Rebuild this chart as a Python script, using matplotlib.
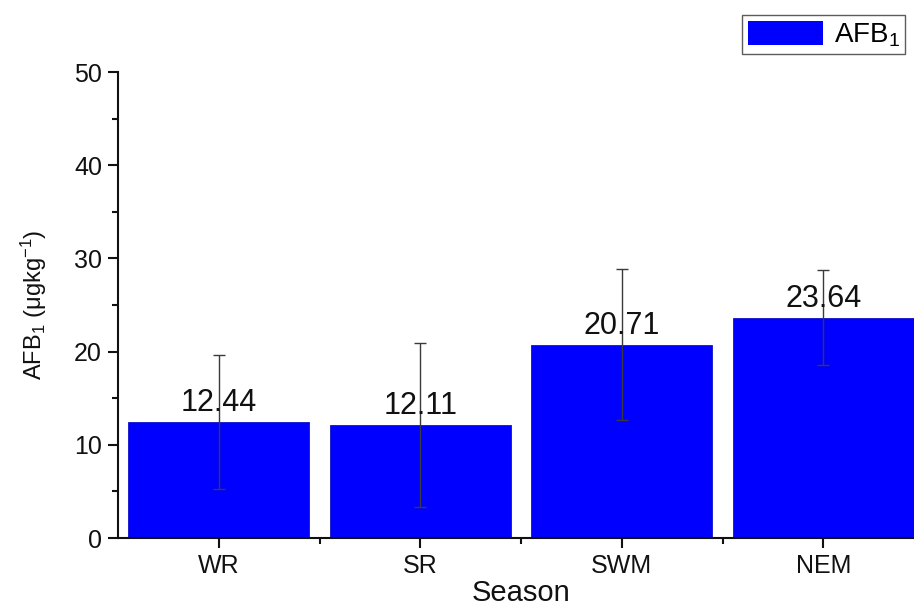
import matplotlib
matplotlib.use("Agg")
import matplotlib.pyplot as plt
from matplotlib.patches import Patch
from matplotlib.ticker import MultipleLocator, FixedLocator

plt.rcParams["font.family"] = ["Liberation Sans", "DejaVu Sans"]
plt.rcParams["mathtext.fontset"] = "custom"
plt.rcParams["mathtext.rm"] = "Liberation Sans"
plt.rcParams["mathtext.it"] = "Liberation Sans:italic"
plt.rcParams["mathtext.bf"] = "Liberation Sans:bold"

seasons = ["WR", "SR", "SWM", "NEM"]
afb1_mean = [12.44, 12.11, 20.71, 23.64]
afb1_sd = [7.2, 8.8, 8.1, 5.1]
value_labels = ["12.44", "12.11", "20.71", "23.64"]

fig = plt.figure(figsize=(9.14, 6.08), dpi=100)
W, H = 914, 608
left, right, bottom, top = 118, 924, 538, 72
ax = fig.add_axes([left / W, 1 - bottom / H, (right - left) / W, (bottom - top) / H])

x = list(range(1, len(seasons) + 1))
bar_color = "#0000ff"
ax.bar(x, afb1_mean, width=0.9, color=bar_color, edgecolor="#1010c8",
       linewidth=0.6, zorder=2)
ax.errorbar(x, afb1_mean, yerr=afb1_sd, fmt="none", ecolor="#3a3a3a",
            elinewidth=1.0, capsize=4, capthick=1.0, zorder=3)

for xi, yi, lab in zip(x, afb1_mean, value_labels):
    ax.annotate(lab, (xi, yi), xytext=(0, 3), textcoords="offset points",
                ha="center", va="bottom", fontsize=22, color="#111111", zorder=4)

ax.set_xlim(0.5, 4.5)
ax.set_ylim(0, 50)
ax.set_xticks(x)
ax.set_xticklabels(seasons)
ax.xaxis.set_minor_locator(FixedLocator([1.5, 2.5, 3.5]))
ax.yaxis.set_major_locator(MultipleLocator(10))
ax.yaxis.set_minor_locator(MultipleLocator(5))

for side in ("top", "right"):
    ax.spines[side].set_visible(False)
for side in ("left", "bottom"):
    ax.spines[side].set_linewidth(1.5)
    ax.spines[side].set_color("#111111")

ax.tick_params(axis="both", which="major", direction="out", length=7.5,
               width=1.5, labelsize=18, colors="#111111", pad=4)
ax.tick_params(axis="both", which="minor", direction="out", length=4,
               width=1.5, colors="#111111")

ax.set_xlabel("Season", fontsize=21, labelpad=1, color="#111111")
ax.set_ylabel(r"AFB$_1$ ($\mathrm{\mu}$gkg$^{-1}$)", fontsize=17,
              labelpad=18, color="#111111")

handle = Patch(facecolor=bar_color, edgecolor="none")
leg = ax.legend([handle], [r"AFB$_1$"], loc="upper left",
                bbox_to_anchor=(742 / W, 1 - 15 / H), bbox_transform=fig.transFigure,
                fontsize=20, handlelength=2.7, handleheight=0.95,
                handletextpad=0.4, borderpad=0.2, borderaxespad=0,
                fancybox=False, frameon=True)
leg.get_frame().set_edgecolor("#333333")
leg.get_frame().set_linewidth(1.0)

fig.savefig("out.png", dpi=100)
